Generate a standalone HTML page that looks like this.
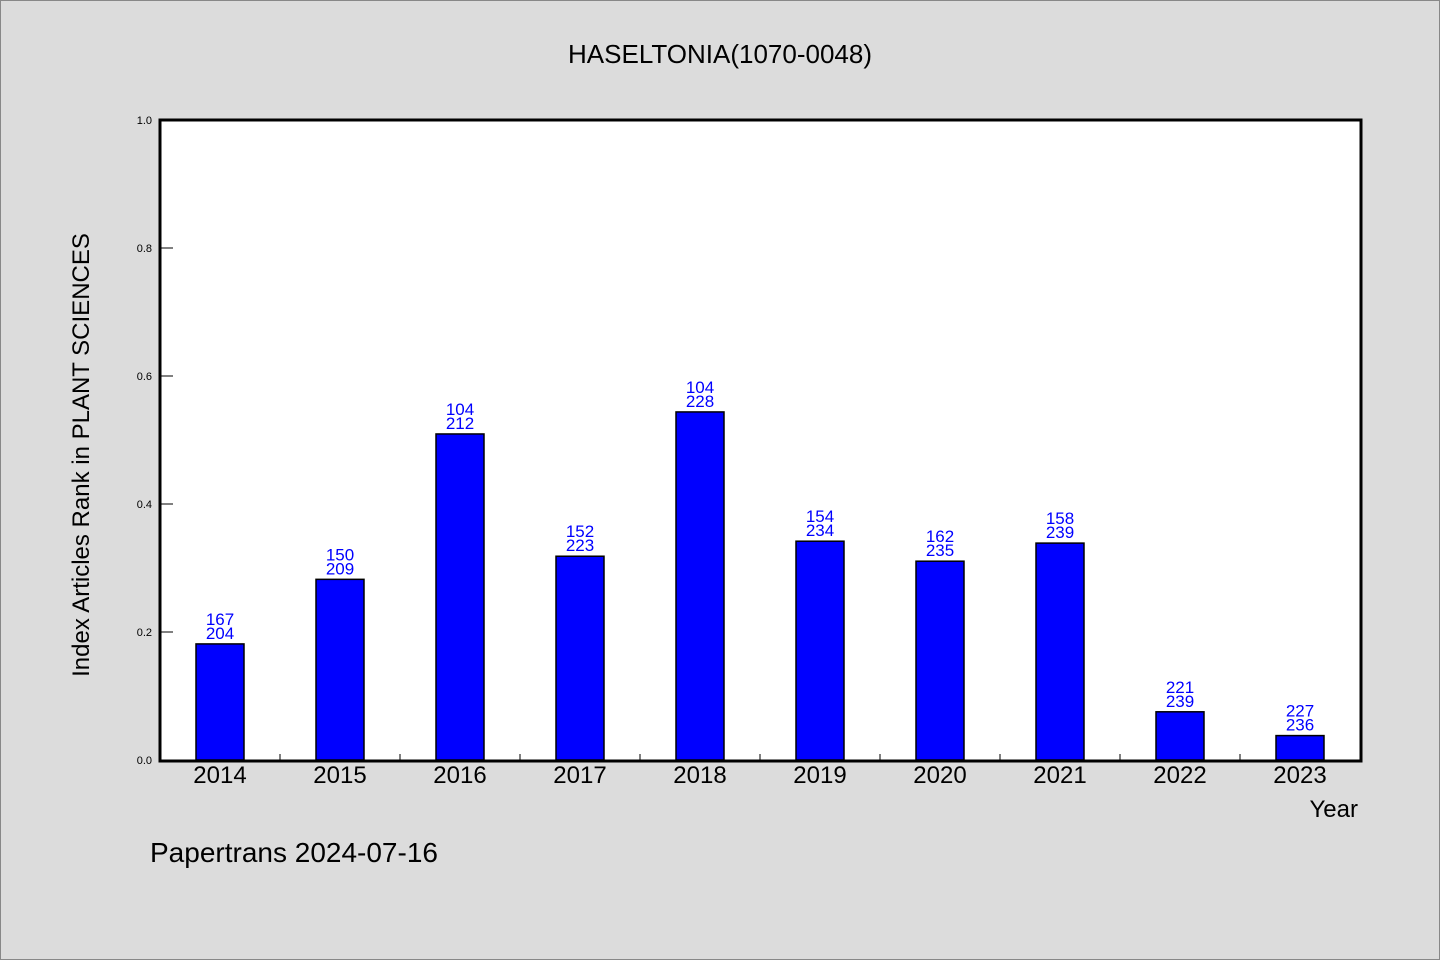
<!DOCTYPE html>
<html><head><meta charset="utf-8"><style>
body{margin:0;background:#dcdcdc;}
svg{display:block;font-family:"WenQuanYi Zen Hei","Liberation Sans",sans-serif;}
</style></head><body>
<svg id="chart" width="1440" height="960">
<rect x="0.5" y="0.5" width="1439" height="959" fill="#dcdcdc" stroke="#888"/>
<text x="720" y="63" font-size="26" text-anchor="middle">HASELTONIA(1070-0048)</text>
<rect x="160" y="120" width="1201" height="641" fill="#fff"/>
<g id="marks"></g>
<rect x="160" y="120" width="1201" height="641" fill="none" stroke="#000" stroke-width="3"/>
<text transform="translate(89,455) rotate(-90)" font-size="24" text-anchor="middle">Index Articles Rank in PLANT SCIENCES</text>
<text x="1358" y="817" font-size="24" text-anchor="end">Year</text>
<text x="150" y="862" font-size="28">Papertrans 2024-07-16</text>
</svg>
<script>
const years=["2014","2015","2016","2017","2018","2019","2020","2021","2022","2023"];
const ranks=[167,150,104,152,104,154,162,158,221,227];
const totals=[204,209,212,223,228,234,235,239,239,236];
const yTicks=[0,0.2,0.4,0.6,0.8,1.0];
const ns="http://www.w3.org/2000/svg";
const g=document.getElementById('marks');
const x0=160,band=120,yBase=760,yScale=640;
const xs=i=>x0+band*i+band/2;
const ys=v=>yBase-v*yScale;
function mk(t,a,txt){const e=document.createElementNS(ns,t);for(const k in a)e.setAttribute(k,a[k]);if(txt!==undefined)e.textContent=txt;g.appendChild(e);return e;}
yTicks.forEach(v=>{
 const l=mk('line',{x1:160,x2:173,y1:ys(v),y2:ys(v),stroke:'#000','stroke-width':1});
 
 
 const t=mk('text',{x:152,y:ys(v)+4,'font-size':11,'text-anchor':'end'},v.toFixed(1));
 
 
});
years.forEach((yr,i)=>{
 const v=(totals[i]-ranks[i])/totals[i];
 const cx=xs(i);
 const r=mk('rect',{x:cx-24,y:ys(v),width:48,height:yBase-ys(v),fill:'#0000ff',stroke:'#000','stroke-width':1.5});
 
 
 const t1=mk('text',{x:cx,y:ys(v)-19,'font-size':17,fill:'#0000ff','text-anchor':'middle'},ranks[i]);
 
 
 const t2=mk('text',{x:cx,y:ys(v)-5,'font-size':17,fill:'#0000ff','text-anchor':'middle'},totals[i]);
 
 
 const xl=mk('text',{x:cx,y:783,'font-size':24,'text-anchor':'middle'},yr);
 
 
 if(i>0){const tk=mk('line',{x1:x0+band*i,x2:x0+band*i,y1:754,y2:761,stroke:'#000','stroke-width':1});
 
 }
});
</script>
</body></html>
